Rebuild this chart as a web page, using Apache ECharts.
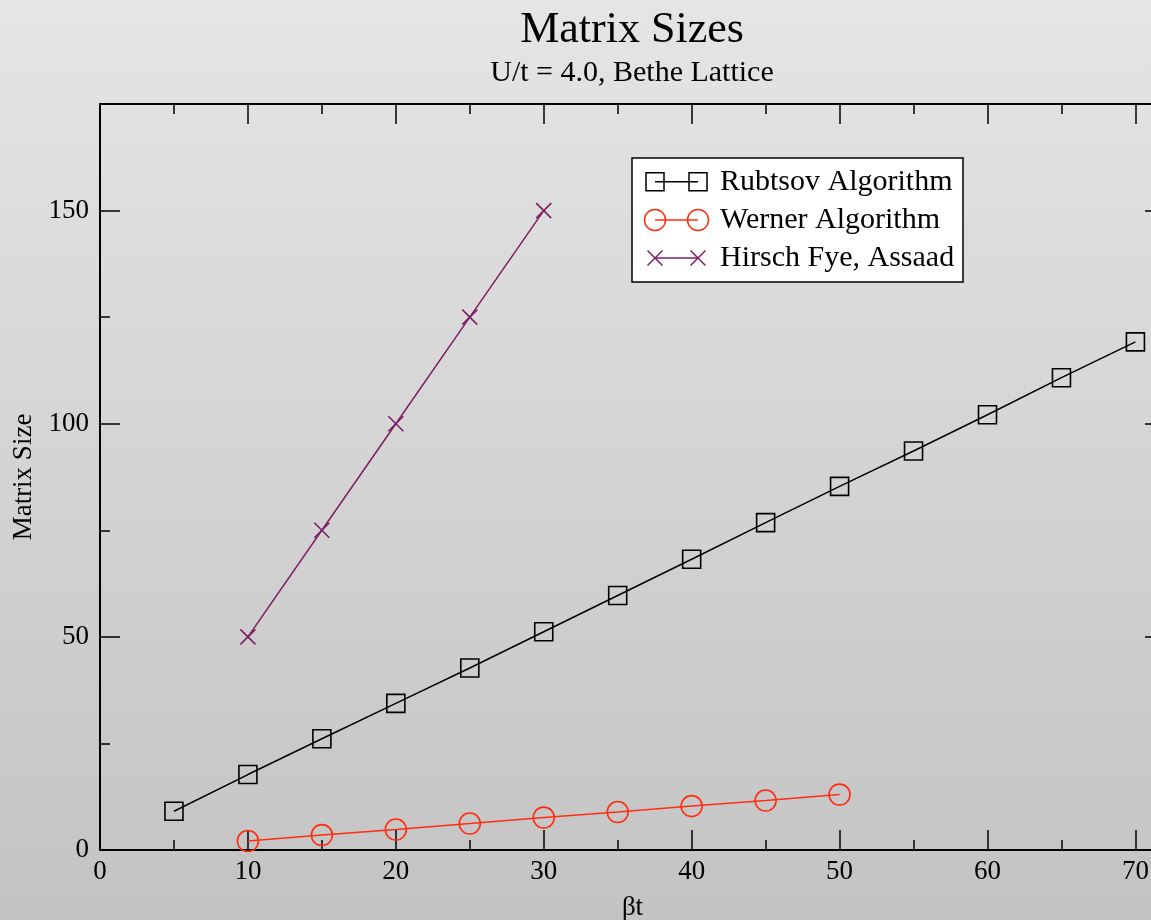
<!DOCTYPE html>
<html>
<head>
<meta charset="utf-8">
<script src="https://cdn.jsdelivr.net/npm/echarts@6/dist/echarts.min.js"></script>
<style>
html,body{margin:0;padding:0;}
#chart{width:1151px;height:920px;background:linear-gradient(to bottom,#e5e5e5,#c3c3c3);}
</style>
</head>
<body>
<div id="chart"></div>
<script>
// ---- data ----
const rubtsovX = [5,10,15,20,25,30,35,40,45,50,55,60,65,70];
const rubtsovY = [9.1,17.7,26.1,34.4,42.7,51.2,59.7,68.2,76.8,85.3,93.6,102.1,110.8,119.2];
const wernerX = [10,15,20,25,30,35,40,45,50];
const wernerY = [2.1,3.5,4.8,6.2,7.6,8.9,10.3,11.6,13.0];
const hirschX = [10,15,20,25,30];
const hirschY = [50,75,100,125,150];
const seriesNames = ['Rubtsov Algorithm','Werner Algorithm','Hirsch Fye, Assaad'];
const titleText = 'Matrix Sizes';
const subtitleText = 'U/t = 4.0, Bethe Lattice';
const xName = 'βt';
const yName = 'Matrix Size';

const FONT = '"Liberation Serif","Times New Roman",serif';
const RED = '#ff2d0f';
const PURPLE = '#7d1d63';
const BLACK = '#000000';
const XPATH = 'path://M0,0L10,10M10,0L0,10';

function pairs(xs, ys){ return xs.map((x,i)=>[x, ys[i]]); }

function xAx(pos, interval, len, showLine, showLabel, extra){
  return Object.assign({
    type:'value', position:pos, min:0, max:72, interval:interval,
    axisLine:{show:showLine, onZero:false, lineStyle:{color:'#000', width:2}},
    axisTick:{show:true, inside:true, length:len, lineStyle:{color:'#000', width:1.5}},
    axisLabel:{show:showLabel, margin:8, fontFamily:FONT, fontSize:27, color:'#000', showMaxLabel:false},
    splitLine:{show:false}
  }, extra||{});
}
function yAx(pos, interval, len, showLine, showLabel, extra){
  return Object.assign({
    type:'value', position:pos, min:0, max:175, interval:interval,
    axisLine:{show:showLine, onZero:false, lineStyle:{color:'#000', width:2}},
    axisTick:{show:true, inside:true, length:len, lineStyle:{color:'#000', width:1.5}},
    axisLabel:{show:showLabel, margin:11, fontFamily:FONT, fontSize:27, color:'#000', showMaxLabel:false},
    splitLine:{show:false}
  }, extra||{});
}

const chart = echarts.init(document.getElementById('chart'), null, {renderer:'canvas'});

// legend drawn as graphic (line with marker at both ends, as in the reference)
const LX = 632, LY = 158, LW = 331, LH = 124;
const rowY = [181.7, 220, 258];
const m1 = 655, m2 = 698, tx = 720;
const legendEls = [
  {type:'rect', shape:{x:LX, y:LY, width:LW, height:LH}, style:{fill:'#ffffff', stroke:'#000', lineWidth:1.5}, z:100}
];
const legColors = [BLACK, RED, PURPLE];
seriesNames.forEach((name,i)=>{
  const y = rowY[i], c = legColors[i];
  legendEls.push({type:'line', shape:{x1:m1, y1:y, x2:m2, y2:y}, style:{stroke:c, lineWidth:1.5}, z:101});
  [m1,m2].forEach(mx=>{
    if(i===0){
      legendEls.push({type:'rect', shape:{x:mx-9, y:y-9, width:18, height:18}, style:{fill:'none', stroke:c, lineWidth:1.5}, z:102});
    } else if(i===1){
      legendEls.push({type:'circle', shape:{cx:mx, cy:y, r:10.5}, style:{fill:'none', stroke:c, lineWidth:1.5}, z:102});
    } else {
      legendEls.push({type:'polyline', shape:{points:[[mx-7.5,y-7.5],[mx+7.5,y+7.5]]}, style:{stroke:c, lineWidth:1.5}, z:102});
      legendEls.push({type:'polyline', shape:{points:[[mx+7.5,y-7.5],[mx-7.5,y+7.5]]}, style:{stroke:c, lineWidth:1.5}, z:102});
    }
  });
  legendEls.push({type:'text', x:tx, y:y, style:{text:name, font:'30px '+FONT, fill:'#000', textAlign:'left', textVerticalAlign:'middle'}, z:102});
});

const option = {
  animation:false,
  backgroundColor:'transparent',
  title:[
    {text:titleText, left:627, top:3, textAlign:'center', textStyle:{fontFamily:FONT, fontSize:44, fontWeight:'normal', color:'#000'}},
    {text:subtitleText, left:627, top:53, textAlign:'center', textStyle:{fontFamily:FONT, fontSize:30, fontWeight:'normal', color:'#000'}}
  ],
  grid:{left:100, top:104, right:-14, bottom:70, containLabel:false, outerBoundsMode:'none'},
  xAxis:[
    xAx('bottom',10,20,true,true,{name:xName, nameLocation:'middle', nameGap:44, nameTextStyle:{fontFamily:FONT, fontSize:27, color:'#000'}}),
    xAx('bottom',5,10,false,false),
    xAx('top',10,20,true,false),
    xAx('top',5,10,false,false)
  ],
  yAxis:[
    yAx('left',50,20,true,true,{name:yName, nameLocation:'middle', nameGap:60, nameTextStyle:{fontFamily:FONT, fontSize:27, color:'#000'}}),
    yAx('left',25,10,false,false),
    yAx('right',50,20,true,false),
    yAx('right',25,10,false,false)
  ],
  series:[
    {name:seriesNames[0], type:'line', xAxisIndex:0, yAxisIndex:0, data:pairs(rubtsovX,rubtsovY),
     symbol:'rect', symbolSize:18, showAllSymbol:true,
     lineStyle:{color:BLACK, width:1.5}, itemStyle:{color:'rgba(0,0,0,0)', borderColor:BLACK, borderWidth:1.6}},
    {name:seriesNames[1], type:'line', xAxisIndex:0, yAxisIndex:0, data:pairs(wernerX,wernerY),
     symbol:'circle', symbolSize:21, showAllSymbol:true,
     lineStyle:{color:RED, width:1.5}, itemStyle:{color:'rgba(0,0,0,0)', borderColor:RED, borderWidth:1.6}},
    {name:seriesNames[2], type:'line', xAxisIndex:0, yAxisIndex:0, data:pairs(hirschX,hirschY),
     symbol:XPATH, symbolSize:15, showAllSymbol:true,
     lineStyle:{color:PURPLE, width:1.5}, itemStyle:{color:'rgba(0,0,0,0)', borderColor:PURPLE, borderWidth:1.6}}
  ],
  graphic:legendEls
};
chart.setOption(option);
</script>
</body>
</html>
